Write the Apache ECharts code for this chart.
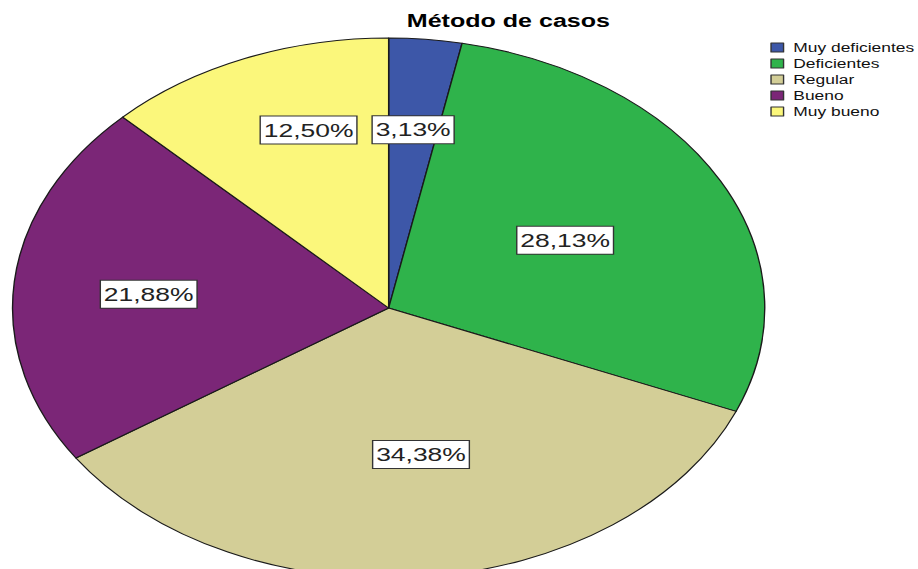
<!DOCTYPE html>
<html>
<head>
<meta charset="utf-8">
<script src="https://cdn.jsdelivr.net/npm/echarts@6/dist/echarts.min.js"></script>
<style>
  html, body { margin: 0; padding: 0; background: #fff; overflow: hidden; }
  #wrap { width: 918px; height: 569px; overflow: hidden; }
  /* chart is laid out narrow and widened horizontally, giving the oval pie */
  #chart { width: 659px; height: 569px; transform: scaleX(1.393); transform-origin: 0 0; }
</style>
</head>
<body>
<div id="wrap"><div id="chart"></div></div>
<script>
const title = 'Método de casos';
const categories = ['Muy deficientes', 'Deficientes', 'Regular', 'Bueno', 'Muy bueno'];
const percents = [3.13, 28.13, 34.38, 21.88, 12.50];

const colors = ['#3d57a8', '#2fb34b', '#d3ce97', '#7b2677', '#fbf77b'];
// label placement: fraction of radius and small angular nudge (degrees, clockwise)
const labelRadius = [0.663, 0.532, 0.549, 0.64, 0.693];
const labelTurn = [0, 0, -3.4, -1.1, 4.6];

const CX = 279, CY = 308, R = 270;
const total = percents.reduce((a, b) => a + b, 0);

function midAngle(i) {
  let before = 0;
  for (let k = 0; k < i; k++) before += percents[k];
  return (before + percents[i] / 2) / total * 360;
}

const chart = echarts.init(document.getElementById('chart'), null, { renderer: 'svg' });

chart.setOption({
  animation: false,
  backgroundColor: '#fff',
  title: {
    text: title,
    left: 292,
    top: 12,
    padding: 0,
    textStyle: { fontFamily: 'Liberation Sans', fontSize: 18, fontWeight: 'bold', color: '#000', lineHeight: 18 }
  },
  legend: {
    orient: 'vertical',
    left: 553,
    top: 41,
    padding: 0,
    icon: 'rect',
    itemWidth: 9,
    itemHeight: 9,
    itemGap: 3,
    data: categories,
    selectedMode: false,
    itemStyle: { borderColor: '#333', borderWidth: 1 },
    textStyle: {
      fontFamily: 'Liberation Sans', fontSize: 12.5, color: '#111',
      lineHeight: 12, padding: [0, 0, 0, 2]
    }
  },
  series: [{
    type: 'pie',
    center: [CX, CY],
    radius: R,
    startAngle: 90,
    clockwise: true,
    silent: true,
    itemStyle: { borderColor: '#1a1a1a', borderWidth: 1 },
    emphasis: { disabled: true },
    labelLine: { show: false },
    label: {
      show: true,
      position: 'inside',
      formatter: p => percents[p.dataIndex].toFixed(2).replace('.', ',') + '%',
      fontFamily: 'Liberation Sans',
      fontSize: 19,
      lineHeight: 22,
      color: '#222',
      backgroundColor: '#fff',
      borderColor: '#333',
      borderWidth: 1,
      padding: [3, 2, 2, 2]
    },
    labelLayout: p => {
      const i = p.dataIndex;
      const a = (midAngle(i) + labelTurn[i]) * Math.PI / 180;
      const r = R * labelRadius[i];
      return {
        x: CX + r * Math.sin(a),
        y: CY - r * Math.cos(a),
        align: 'center',
        verticalAlign: 'middle'
      };
    },
    data: categories.map((name, i) => ({
      name: name,
      value: percents[i],
      itemStyle: { color: colors[i] }
    }))
  }]
});
</script>
</body>
</html>
